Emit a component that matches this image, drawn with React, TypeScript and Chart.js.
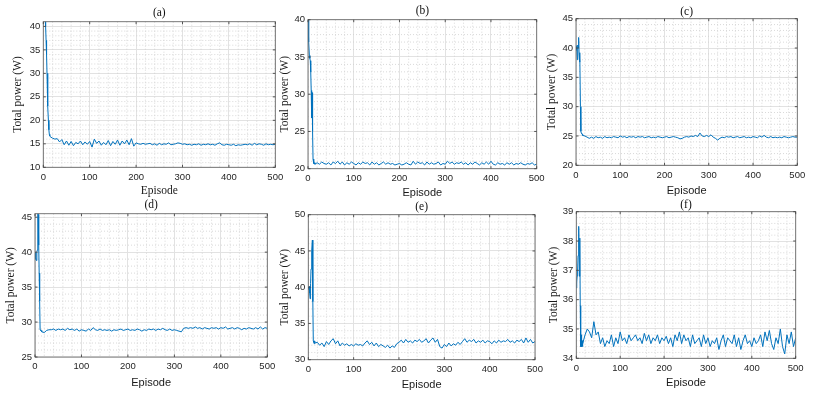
import React, { useEffect, useRef } from 'react';
import { Chart, registerables } from 'chart.js';

Chart.register(...registerables);

// ---------------- data ----------------
const EPISODES = [
  0, 1, 2, 3, 4, 5, 6, 7, 8, 9, 10, 11, 12, 13, 14, 15,
  20, 25, 30, 35, 40, 45, 50, 55, 60, 65, 70, 75, 80, 85, 90, 95,
  100, 105, 110, 115, 120, 125, 130, 135, 140, 145, 150, 155, 160, 165, 170, 175, 180, 185, 190, 195,
  200, 205, 210, 215, 220, 225, 230, 235, 240, 245, 250, 255, 260, 265, 270, 275, 280, 285, 290, 295,
  300, 305, 310, 315, 320, 325, 330, 335, 340, 345, 350, 355, 360, 365, 370, 375, 380, 385, 390, 395,
  400, 405, 410, 415, 420, 425, 430, 435, 440, 445, 450, 455, 460, 465, 470, 475, 480, 485, 490, 495, 500,
];

const POWER_A = [
  43, 45, 44, 46, 41.5, 40, 37, 34, 30, 26, 23, 20, 18, 17, 16.7, 16.5,
  16.2, 16.0, 16.1, 15.4, 15.9, 14.8, 15.6, 14.7, 15.5, 14.6, 15.3, 15.0, 15.6, 14.8, 15.4, 14.9,
  15.5, 14.3, 16.0, 15.1, 15.6, 14.7, 15.3, 14.8, 15.7, 14.6, 15.5, 14.9, 15.8, 14.7, 15.6, 15.0, 15.8, 14.8, 16.1, 14.5,
  15.2, 15.0, 14.9, 15.1, 14.9, 15.0, 15.1, 14.8, 15.0, 14.7, 15.1, 14.8, 15.0, 14.9, 15.2, 14.8, 14.9, 15.0, 15.2, 15.1,
  14.9, 15.0, 14.8, 14.9, 14.7, 14.9, 14.8, 15.0, 14.7, 14.9, 14.8, 15.0, 14.8, 14.9, 14.7, 15.0, 15.2, 14.8, 14.7, 14.9,
  14.8, 14.7, 14.9, 14.6, 14.8, 14.7, 14.8, 14.9, 14.8, 15.0, 14.7, 15.1, 14.8, 15.0, 14.9, 14.7, 15.0, 14.8, 14.9, 14.8, 14.9,
];

const POWER_B = [
  40, 38.5, 37, 35.2, 34.8, 34.5, 33, 30.5, 26.8, 30.2, 25, 21.3, 20.9, 20.7, 20.8, 20.6,
  20.8, 20.6, 20.9, 20.7, 20.6, 20.8, 20.5, 20.9, 20.7, 21.0, 20.6, 20.9, 20.5, 20.8, 20.6, 20.9,
  20.7, 20.5, 20.8, 20.6, 20.9, 20.7, 20.8, 20.5, 20.9, 20.6, 20.8, 20.5, 20.7, 20.9, 20.6, 20.8, 20.6, 20.7, 20.5, 20.6,
  20.7, 20.5, 20.6, 20.8, 20.6, 20.5, 21.0, 20.6, 20.9, 20.7, 20.8, 20.5, 20.9, 20.6, 20.8, 20.6, 20.7, 20.9, 20.5, 20.7,
  20.6, 21.0, 20.7, 20.9, 20.6, 20.8, 20.7, 20.9, 20.6, 20.8, 20.5, 20.8, 20.6, 20.9, 20.7, 20.5, 20.8, 20.6, 20.9, 20.6,
  21.0, 20.6, 20.5, 20.8, 20.6, 20.7, 20.5, 20.8, 20.6, 20.8, 20.5, 20.7, 20.6, 20.8, 20.6, 20.5, 20.7, 20.6, 20.8, 20.5, 20.6,
];

const POWER_C = [
  40.2, 39.6, 40.4, 38.0, 40.5, 40.0, 41.8, 39.0, 37.6, 39.2, 30.0, 25.8, 25.5, 25.4, 25.3, 25.1,
  25.0, 24.8, 24.6, 24.8, 24.6, 24.9, 24.7, 24.8, 24.6, 24.9, 24.7, 24.8, 24.7, 24.9, 24.8, 24.7,
  25.0, 24.8, 24.9, 24.7, 24.9, 24.8, 24.9, 24.7, 24.9, 24.8, 24.9, 24.7, 24.8, 24.9, 24.7, 24.8, 24.7, 24.9, 24.8, 24.7,
  24.8, 24.9, 24.7, 24.8, 24.9, 24.8, 24.7, 24.5, 24.6, 24.8, 24.9, 24.8, 25.0, 24.9, 25.1, 24.9, 25.5, 25.0, 24.9, 25.1,
  24.9, 25.2, 24.8, 24.6, 24.3, 24.6, 24.8, 24.7, 24.9, 24.8, 24.9, 24.7, 24.8, 24.9, 24.7, 24.8, 24.9, 24.7, 24.8, 24.7,
  24.9, 24.8, 24.7, 25.0, 24.8, 25.1, 24.8, 24.7, 24.9, 24.7, 24.8, 24.7, 24.8, 24.7, 24.9, 24.8, 24.7, 24.8, 24.9, 24.8, 24.8,
];

const POWER_D = [
  39.0, 40.0, 39.2, 38.8, 40.0, 40.3, 47.0, 45.4, 41.0, 37.0, 33.0, 28.9, 28.8, 28.8, 28.7, 28.6,
  28.5, 28.8, 28.9, 28.9, 29.0, 28.8, 29.0, 28.9, 29.0, 28.8, 29.1, 28.9, 29.0, 28.8, 29.0, 28.7,
  28.9, 28.8, 28.7, 29.0, 28.8, 29.2, 28.9, 28.8, 29.0, 28.8, 28.9, 28.8, 28.9, 28.7, 28.9, 28.8, 28.9, 29.0, 28.8, 28.9,
  29.0, 28.8, 28.9, 28.8, 29.0, 28.9, 28.7, 28.9, 28.8, 29.0, 28.9, 29.0, 28.8, 29.0, 28.9, 29.1, 28.9, 28.8, 29.0, 28.8,
  28.9, 28.8, 28.7, 28.6, 29.1, 29.2, 29.1, 29.2, 29.1, 29.3, 29.1, 29.2, 29.0, 29.2, 29.1, 29.0, 29.2, 29.1, 29.2, 29.0,
  29.2, 29.1, 29.3, 29.0, 29.1, 29.2, 29.0, 29.2, 29.1, 28.9, 29.1, 29.0, 29.2, 29.1, 29.0, 29.2, 29.0, 29.3, 29.0, 29.2, 29.1,
];

const POWER_E = [
  40.0, 39.7, 40.1, 39.2, 38.4, 40.5, 42.5, 43.5, 45.0, 46.5, 38.0, 32.6, 32.4, 32.2, 32.6, 32.3,
  32.4, 32.0, 32.3, 31.8, 32.5, 32.1, 32.6, 32.9, 32.2, 32.6, 31.9, 32.3, 32.0, 32.2, 31.9, 32.1,
  31.9, 32.2, 32.0, 32.1, 31.9, 32.3, 32.6, 32.1, 32.4, 31.9, 32.3, 31.8, 32.1, 31.9, 31.7, 32.0, 31.6, 31.9, 31.7, 32.2,
  32.4, 32.7, 32.3, 32.8, 32.4, 32.6, 32.3, 32.7, 32.5, 32.8, 32.4, 32.6, 32.9, 32.3, 32.7, 33.0, 32.4, 32.8, 31.8, 31.6,
  32.1, 31.8, 32.3, 31.9, 32.2, 32.0, 32.4, 32.1, 32.5, 32.9, 32.4, 32.7, 32.5, 32.8, 32.3, 32.6, 32.4, 32.7, 32.3, 32.6,
  32.5, 32.2, 32.6, 32.3, 32.7, 32.4, 32.6, 32.5, 32.8, 32.4, 32.6, 32.3, 32.7, 32.5, 32.8, 32.3, 33.0, 32.4, 32.8, 32.3, 32.5,
];

const POWER_F = [
  36.4, 36.6, 36.8, 37.0, 37.5, 38.0, 38.5, 36.8, 38.1, 35.8, 34.4, 34.8, 34.4, 34.6, 34.4, 34.5,
  34.8, 35.0, 34.9, 34.7, 35.25, 34.8, 34.9, 34.5, 34.7, 34.4, 34.6, 34.5, 34.8, 34.4, 34.7, 34.5,
  34.9, 34.6, 34.7, 34.5, 34.8, 34.6, 34.7, 34.8, 34.6, 34.7, 34.5, 34.85, 34.6, 34.8, 34.5, 34.7, 34.6, 34.8, 34.5, 34.7,
  34.6, 34.75, 34.5, 34.7, 34.4, 34.8, 34.6, 34.9, 34.5, 34.8, 34.6, 34.7, 34.4, 34.8, 34.5, 34.6, 34.7, 34.4, 34.8, 34.5,
  34.7, 34.4, 34.6, 34.5, 34.7, 34.3, 34.6, 34.8, 34.4, 34.7, 34.6, 34.5, 34.8, 34.4, 34.7, 34.3, 34.6, 34.8, 34.5, 34.6,
  34.4, 34.7, 34.5, 34.6, 34.8, 34.4, 34.9, 34.6, 34.95, 34.5, 34.3, 34.7, 34.5, 35.0, 34.4, 34.15, 34.8, 34.5, 34.9, 34.4, 34.7,
];

const X_TICKS = [0, 100, 200, 300, 400, 500];
const Y_TICKS_A = [10, 15, 20, 25, 30, 35, 40];
const Y_TICKS_B = [20, 25, 30, 35, 40];
const Y_TICKS_C = [20, 25, 30, 35, 40, 45];
const Y_TICKS_D = [25, 30, 35, 40, 45];
const Y_TICKS_E = [30, 35, 40, 45, 50];
const Y_TICKS_F = [34, 35, 36, 37, 38, 39];

const TITLES = ['(a)', '(b)', '(c)', '(d)', '(e)', '(f)'];
const Y_LABEL = 'Total power (W)';
const X_LABEL = 'Episode';

// ---------------- layout / style ----------------
const SANS = '"Liberation Sans", Arial, Helvetica, sans-serif';
const SERIF = '"Liberation Serif", "Times New Roman", serif';
const LINE_BLUE = '#0072BD';
const TITLE_SIZE = 11.5;
const LABEL_SIZE = 11.5;
const TICK_SIZE = 9.5;

type Panel = {
  title: string;
  values: number[];
  yMin: number;
  yMax: number;
  yTicks: number[];
  yMinor: number;
  xSerif: boolean;
  l: number; t: number; r: number; b: number;
  ty: number; yx: number; ey: number;
};

const PANELS: Panel[] = [
  { title: TITLES[0], values: POWER_A, yMin: 10, yMax: 41, yTicks: Y_TICKS_A, yMinor: 1, xSerif: true,
    l: 43.3, t: 21.7, r: 275.3, b: 167.3, ty: 13, yx: 17.5, ey: 190.5 },
  { title: TITLES[1], values: POWER_B, yMin: 20, yMax: 40, yTicks: Y_TICKS_B, yMinor: 1, xSerif: false,
    l: 308, t: 19.7, r: 536.7, b: 168.7, ty: 11, yx: 284.7, ey: 193 },
  { title: TITLES[2], values: POWER_C, yMin: 20, yMax: 45, yTicks: Y_TICKS_C, yMinor: 1, xSerif: false,
    l: 576, t: 18.7, r: 797.3, b: 165.3, ty: 12, yx: 552, ey: 191 },
  { title: TITLES[3], values: POWER_D, yMin: 25, yMax: 45.5, yTicks: Y_TICKS_D, yMinor: 1, xSerif: false,
    l: 35, t: 213.7, r: 267.3, b: 357, ty: 205, yx: 10.8, ey: 383 },
  { title: TITLES[4], values: POWER_E, yMin: 30, yMax: 50, yTicks: Y_TICKS_E, yMinor: 1, xSerif: false,
    l: 308.3, t: 214.7, r: 535, b: 359.7, ty: 207, yx: 284.5, ey: 385 },
  { title: TITLES[5], values: POWER_F, yMin: 34, yMax: 39, yTicks: Y_TICKS_F, yMinor: 0.2, xSerif: false,
    l: 576.3, t: 211.7, r: 795.7, b: 358.3, ty: 205, yx: 553.5, ey: 383 },
];

function PanelChart({ p }: { p: Panel }) {
  const ref = useRef<HTMLCanvasElement>(null);
  const half = (TITLE_SIZE * 1.2) / 2;
  const cl = Math.round(p.yx - 9);
  const ct = Math.round(p.ty - 9);
  const cr = Math.round(p.r + 14);
  const cb = Math.round(p.ey + 9);
  const W = cr - cl;
  const H = cb - ct;

  useEffect(() => {
    if (!ref.current) return;
    const yW = p.l - cl;
    const xH = cb - p.b;
    const tTop = p.ty - ct - half;
    const tBot = p.t - ct - 2 * half - tTop;
    const yPad = p.yx - cl - half;
    const xPad = cb - p.ey - half;
    const xMinorStep = 20;

    const isMajor = (arr: number[], v: number) => arr.some((t) => Math.abs(t - v) < 1e-6);

    const frame = {
      id: 'matlabFrame',
      beforeDatasetsDraw(chart: any) {
        const { ctx, chartArea, scales } = chart;
        const { left, right, top, bottom } = chartArea;
        const x = scales.x;
        const y = scales.y;
        ctx.save();
        ctx.strokeStyle = '#cfcfcf';
        ctx.lineWidth = 0.8;
        ctx.setLineDash([1, 2]);
        for (let i = 1; i * xMinorStep < 500; i++) {
          const v = i * xMinorStep;
          if (isMajor(X_TICKS, v)) continue;
          const px = x.getPixelForValue(v);
          ctx.beginPath();
          ctx.moveTo(px, top);
          ctx.lineTo(px, bottom);
          ctx.stroke();
        }
        for (let i = 1; p.yMin + i * p.yMinor < p.yMax - 1e-6; i++) {
          const v = p.yMin + i * p.yMinor;
          if (isMajor(p.yTicks, v)) continue;
          const py = y.getPixelForValue(v);
          ctx.beginPath();
          ctx.moveTo(left, py);
          ctx.lineTo(right, py);
          ctx.stroke();
        }
        ctx.restore();
      },
      afterDatasetsDraw(chart: any) {
        const { ctx, chartArea, scales } = chart;
        const { left, right, top, bottom } = chartArea;
        const x = scales.x;
        const y = scales.y;
        ctx.save();
        ctx.strokeStyle = '#6a6a6a';
        ctx.lineWidth = 0.9;
        ctx.strokeRect(left, top, right - left, bottom - top);
        const tl = 2.5;
        ctx.strokeStyle = '#444';
        X_TICKS.forEach((v) => {
          const px = x.getPixelForValue(v);
          ctx.beginPath();
          ctx.moveTo(px, bottom);
          ctx.lineTo(px, bottom - tl);
          ctx.moveTo(px, top);
          ctx.lineTo(px, top + tl);
          ctx.stroke();
        });
        p.yTicks.forEach((v) => {
          const py = y.getPixelForValue(v);
          ctx.beginPath();
          ctx.moveTo(left, py);
          ctx.lineTo(left + tl, py);
          ctx.moveTo(right, py);
          ctx.lineTo(right - tl, py);
          ctx.stroke();
        });
        ctx.restore();
      },
    };

    const chart = new Chart(ref.current, {
      type: 'line',
      data: {
        datasets: [
          {
            data: EPISODES.map((e, i) => ({ x: e, y: p.values[i] })),
            borderColor: LINE_BLUE,
            borderWidth: 1,
            pointRadius: 0,
            tension: 0,
            fill: false,
          },
        ],
      },
      options: {
        animation: false,
        responsive: false,
        devicePixelRatio: 1,
        events: [],
        layout: { padding: { left: 0, top: 0, right: cr - p.r, bottom: 0 } },
        plugins: {
          legend: { display: false },
          tooltip: { enabled: false },
          title: {
            display: true,
            text: p.title,
            fullSize: false,
            color: '#111',
            font: { family: SERIF, size: TITLE_SIZE, weight: 'normal' },
            padding: { top: tTop, bottom: tBot },
          },
        },
        scales: {
          x: {
            type: 'linear',
            min: 0,
            max: 500,
            afterBuildTicks: (s: any) => {
              s.ticks = X_TICKS.map((v) => ({ value: v }));
            },
            afterFit: (s: any) => {
              s.height = xH;
            },
            ticks: {
              autoSkip: false,
              maxRotation: 0,
              padding: 4,
              color: '#262626',
              font: { family: SANS, size: TICK_SIZE },
            },
            grid: { color: '#e2e2e2', lineWidth: 1, drawTicks: false },
            border: { display: false },
            title: {
              display: true,
              text: X_LABEL,
              color: '#1a1a1a',
              font: { family: p.xSerif ? SERIF : SANS, size: p.xSerif ? LABEL_SIZE : 11 },
              padding: { top: 0, bottom: p.xSerif ? xPad : cb - p.ey - 6.6 },
            },
          },
          y: {
            type: 'linear',
            min: p.yMin,
            max: p.yMax,
            afterBuildTicks: (s: any) => {
              s.ticks = p.yTicks.map((v) => ({ value: v }));
            },
            afterFit: (s: any) => {
              s.width = yW;
            },
            ticks: {
              autoSkip: false,
              padding: 3,
              color: '#262626',
              font: { family: SANS, size: TICK_SIZE },
            },
            grid: { color: '#e2e2e2', lineWidth: 1, drawTicks: false },
            border: { display: false },
            title: {
              display: true,
              text: Y_LABEL,
              color: '#1a1a1a',
              font: { family: SERIF, size: LABEL_SIZE },
              padding: { top: yPad, bottom: yPad },
            },
          },
        },
      },
      plugins: [frame],
    } as any);
    return () => chart.destroy();
  }, []);

  return (
    <canvas
      ref={ref}
      width={W}
      height={H}
      style={{ position: 'absolute', left: cl, top: ct, width: W, height: H }}
    />
  );
}

export default function App() {
  return (
    <div
      style={{
        position: 'absolute',
        left: 0,
        top: 0,
        width: 830,
        height: 396,
        background: '#ffffff',
        overflow: 'hidden',
      }}
    >
      {PANELS.map((p) => (
        <PanelChart key={p.title} p={p} />
      ))}
    </div>
  );
}
